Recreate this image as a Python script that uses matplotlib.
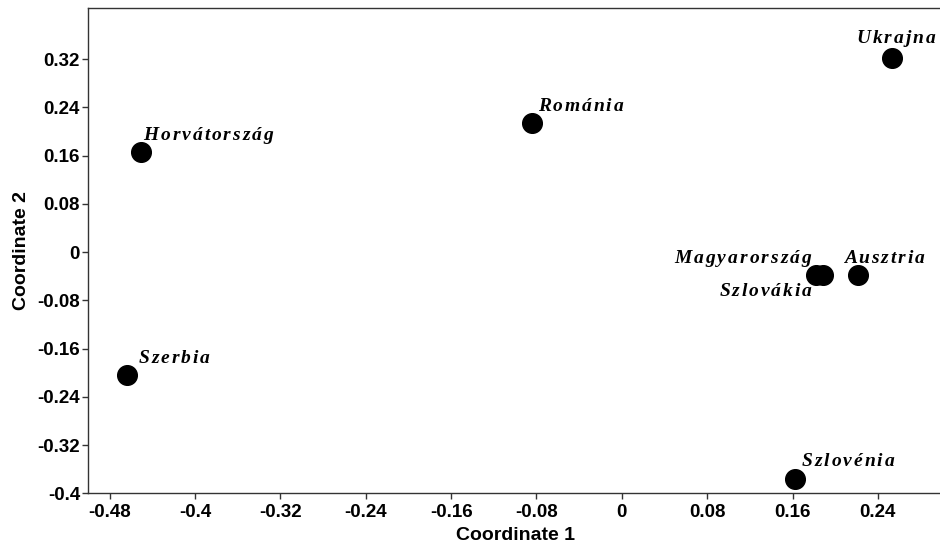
import matplotlib
matplotlib.use("Agg")
import matplotlib.pyplot as plt
from matplotlib.font_manager import FontProperties

countries = ["Ukrajna", "Románia", "Horvátország", "Szerbia",
             "Magyarország", "Szlovákia", "Ausztria", "Szlovénia"]
coord1 = [0.253, -0.084, -0.451, -0.464, 0.182, 0.189, 0.221, 0.162]
coord2 = [0.322, 0.215, 0.167, -0.204, -0.038, -0.038, -0.038, -0.376]

x_ticks = [-0.48, -0.4, -0.32, -0.24, -0.16, -0.08, 0, 0.08, 0.16, 0.24]
y_ticks = [-0.4, -0.32, -0.24, -0.16, -0.08, 0, 0.08, 0.16, 0.24, 0.32]

# label offsets in points, with horizontal alignment
label_offsets = {
    "Ukrajna": (-25.5, 10.5, "left"),
    "Románia": (4, 8.4, "left"),
    "Horvátország": (2, 8.4, "left"),
    "Szerbia": (8.4, 8.4, "left"),
    "Magyarország": (-3.5, 8.8, "right"),
    "Szlovákia": (-8.5, -15, "right"),
    "Ausztria": (-10, 8.8, "left"),
    "Szlovénia": (5, 9.3, "left"),
}

LABEL_FONT = FontProperties(family="Liberation Serif", weight="bold",
                            style="italic", size=14)
LETTER_GAP = 1.4  # extra spacing between letters, points
DPI = 100


def fmt(v):
    s = f"{v:.2f}".rstrip("0").rstrip(".")
    return "0" if s in ("0", "-0") else s


def spaced_label(ax, renderer, text, xy, dx, dy, ha):
    # letter-spaced text, one annotate per character
    def width(s):
        if not s:
            return 0.0
        w, _, _ = renderer.get_text_width_height_descent(s, LABEL_FONT, ismath=False)
        return w * 72.0 / DPI

    total = width(text) + LETTER_GAP * (len(text) - 1)
    start = dx - total if ha == "right" else dx
    for i, ch in enumerate(text):
        off = start + width(text[:i]) + LETTER_GAP * i
        ax.annotate(ch, xy, xytext=(off, dy), textcoords="offset points",
                    ha="left", va="baseline", fontproperties=LABEL_FONT)


fig = plt.figure(figsize=(9.4, 5.46), dpi=DPI)
ax = fig.add_axes([0.094, 0.0965, 0.908, 0.8888])
renderer = fig.canvas.get_renderer()

ax.scatter(coord1, coord2, s=200, color="black", zorder=3)

for name, x, y in zip(countries, coord1, coord2):
    dx, dy, ha = label_offsets[name]
    spaced_label(ax, renderer, name, (x, y), dx, dy, ha)

ax.set_xlim(-0.5, 0.3)
ax.set_ylim(-0.4, 0.405)
ax.set_xticks(x_ticks)
ax.set_yticks(y_ticks)
ax.set_xticklabels([fmt(v) for v in x_ticks])
ax.set_yticklabels([fmt(v) for v in y_ticks])
for lbl in ax.get_xticklabels() + ax.get_yticklabels():
    lbl.set_family("Liberation Sans")
    lbl.set_fontweight("bold")
    lbl.set_fontsize(13.5)
ax.tick_params(direction="out", length=4, width=1, color="#333333")
ax.tick_params(axis="x", pad=4)
ax.tick_params(axis="y", pad=2)

ax.set_xlabel("Coordinate 1", fontsize=14, fontweight="bold",
              family="Liberation Sans", labelpad=4)
ax.set_ylabel("Coordinate 2", fontsize=14, fontweight="bold",
              family="Liberation Sans", labelpad=5)

for sp in ax.spines.values():
    sp.set_color("#333333")
    sp.set_linewidth(1)

fig.savefig("out.png", dpi=DPI)
